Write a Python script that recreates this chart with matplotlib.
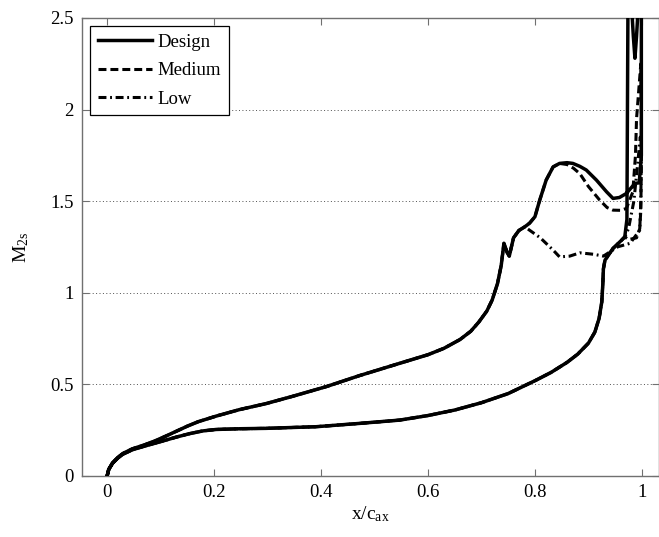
import matplotlib
matplotlib.use("Agg")
import matplotlib.pyplot as plt

# pressure side, leading edge -> trailing edge (same for all three cases)
ps_x = [0.0, 0.003, 0.01, 0.02, 0.029, 0.047, 0.07, 0.097, 0.129, 0.154, 0.179, 0.204,
        0.25, 0.297, 0.391, 0.472, 0.547, 0.60, 0.65, 0.70, 0.75, 0.80, 0.83, 0.86,
        0.88, 0.90, 0.912, 0.92, 0.925, 0.927, 0.928, 0.931, 0.946, 0.962, 0.968]
ps_y = [0.0, 0.035, 0.069, 0.098, 0.118, 0.143, 0.163, 0.185, 0.212, 0.231, 0.246, 0.254,
        0.258, 0.26, 0.269, 0.287, 0.305, 0.33, 0.36, 0.40, 0.45, 0.52, 0.565, 0.62,
        0.665, 0.725, 0.785, 0.86, 0.95, 1.05, 1.13, 1.178, 1.242, 1.287, 1.305]

# suction side, common part up to x ~ 0.8
ss_x = [0.0, 0.003, 0.01, 0.02, 0.029, 0.047, 0.07, 0.09, 0.11, 0.13, 0.15, 0.17,
        0.204, 0.247, 0.297, 0.347, 0.41, 0.472, 0.547, 0.60, 0.63, 0.66, 0.68, 0.695,
        0.71, 0.72, 0.73, 0.737, 0.742, 0.748, 0.752, 0.76, 0.77, 0.781, 0.79, 0.80]
ss_y = [0.0, 0.036, 0.071, 0.101, 0.122, 0.148, 0.17, 0.192, 0.218, 0.245, 0.272, 0.296,
        0.327, 0.362, 0.395, 0.435, 0.488, 0.548, 0.615, 0.662, 0.697, 0.745, 0.79, 0.84,
        0.90, 0.96, 1.05, 1.15, 1.27, 1.22, 1.20, 1.30, 1.34, 1.36, 1.38, 1.415]

# rear suction side + trailing edge, back to the pressure side end
design_x = [0.809, 0.821, 0.834, 0.846, 0.86, 0.871, 0.884, 0.896, 0.915, 0.934, 0.946,
            0.958, 0.971, 0.987, 0.995, 0.999, 0.999, 0.994, 0.99, 0.987, 0.984, 0.98,
            0.974, 0.973, 0.972]
design_y = [1.506, 1.615, 1.687, 1.706, 1.71, 1.706, 1.69, 1.67, 1.615, 1.551, 1.515,
            1.52, 1.542, 1.597, 1.60, 1.75, 2.60, 2.60, 2.40, 2.28, 2.40, 2.60,
            2.60, 2.00, 1.40]

medium_x = [0.809, 0.821, 0.834, 0.846, 0.86, 0.872, 0.884, 0.90, 0.921, 0.935, 0.946,
            0.96, 0.971, 0.983, 0.988, 0.99, 0.994, 0.998, 0.999, 0.999, 0.998, 0.996,
            0.99, 0.975]
medium_y = [1.506, 1.615, 1.687, 1.706, 1.70, 1.68, 1.65, 1.58, 1.506, 1.465, 1.451,
            1.45, 1.46, 1.55, 1.75, 1.95, 2.10, 2.25, 2.00, 1.70, 1.45, 1.35,
            1.30, 1.29]

low_x = [0.81, 0.834, 0.846, 0.865, 0.884, 0.91, 0.928, 0.955, 0.978, 0.996, 0.998, 0.999,
         0.997, 0.992, 0.985, 0.975]
low_y = [1.30, 1.233, 1.196, 1.20, 1.218, 1.21, 1.20, 1.251, 1.27, 1.342, 1.50, 1.80,
         1.85, 1.70, 1.50, 1.35]


def loop(tail_x, tail_y, cut):
    # cut = how many of the common suction-side points to keep
    xs = ss_x[:cut] + tail_x + ps_x[::-1]
    ys = ss_y[:cut] + tail_y + ps_y[::-1]
    return xs, ys


plt.rcParams['font.family'] = ['Liberation Serif', 'DejaVu Serif']
plt.rcParams['mathtext.fontset'] = 'custom'
plt.rcParams['mathtext.rm'] = 'Liberation Serif'
plt.rcParams['mathtext.it'] = 'Liberation Serif:italic'

fig = plt.figure(figsize=(6.59, 5.37), dpi=100)
ax = fig.add_axes([0.1244, 0.1136, 0.8756, 0.853])

lx, ly = loop(low_x, low_y, len(ss_x) - 2)
ax.plot(lx, ly, color='black', lw=2.2, linestyle=(0, (2.6, 1.2, 0.6, 1.2)), label='Low', zorder=3)
mx, my = loop(medium_x, medium_y, len(ss_x))
ax.plot(mx, my, color='black', lw=2.2, linestyle=(0, (2.6, 1.3)), label='Medium', zorder=4)
dx, dy = loop(design_x, design_y, len(ss_x))
ax.plot(dx, dy, color='black', lw=2.5, linestyle='-', label='Design', zorder=5)

ax.set_xlim(-0.047, 1.032)
ax.set_ylim(0, 2.5)
ax.set_xticks([0, 0.2, 0.4, 0.6, 0.8, 1])
ax.set_xticklabels(['0', '0.2', '0.4', '0.6', '0.8', '1'])
ax.set_yticks([0, 0.5, 1, 1.5, 2, 2.5])
ax.set_yticklabels(['0', '0.5', '1', '1.5', '2', '2.5'])
ax.tick_params(direction='in', length=5, width=0.8, color='#707070', labelsize=13.5,
               top=True, right=True, pad=6)
ax.yaxis.grid(True, linestyle=(0, (1, 2.5)), color='#505050', linewidth=0.7)
for s in ax.spines.values():
    s.set_color('#707070')
    s.set_linewidth(1.0)

ax.set_xlabel(r'$\mathrm{x/c_{ax}}$', fontsize=14, labelpad=2)
ax.set_ylabel(r'$\mathrm{M_{2s}}$', fontsize=14, labelpad=14)

handles, labels = ax.get_legend_handles_labels()
leg = ax.legend(handles[::-1], labels[::-1], loc='upper left', fontsize=13.5, handlelength=2.9,
                handletextpad=0.3, borderaxespad=0.45, labelspacing=0.6, fancybox=False,
                framealpha=1, edgecolor='black', borderpad=0.4)
leg.get_frame().set_linewidth(0.9)

fig.savefig('out.png', dpi=100)
